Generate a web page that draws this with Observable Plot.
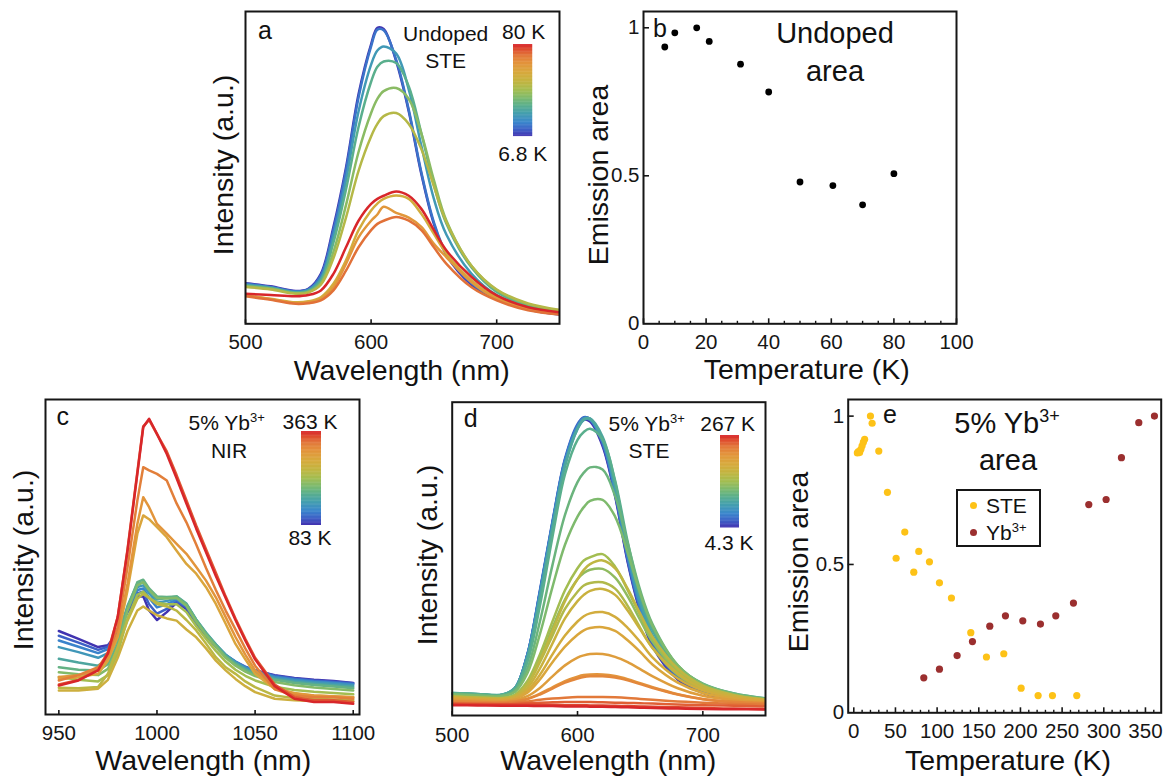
<!DOCTYPE html>
<html><head><meta charset="utf-8">
<script src="https://cdn.jsdelivr.net/npm/d3@7"></script>
<script src="https://cdn.jsdelivr.net/npm/@observablehq/plot@0.6"></script>
<style>
body{margin:0;background:#fff;}
#root{position:relative;width:1170px;height:776px;overflow:hidden;font-family:"Liberation Sans",Arial,sans-serif;color:#111;background:#fff;}
.lbl{position:absolute;white-space:nowrap;line-height:1;transform:translate(-50%,-50%);}
.rot{transform:translate(-50%,-50%) rotate(-90deg);}
sup{font-size:0.62em;vertical-align:0;position:relative;top:-0.62em;}
</style></head><body><div id="root"></div>
<script>
// ---------------- DATA ----------------
// panel a: undoped STE spectra
const wlA = [500,520,540,550,560,570,580,590,600,605,610,620,630,640,650,660,680,700,725,750];
const tempsA = [6.8,10,17,21,31,40,50,60.5,70,80];
const spectraA = [
  [13.0,12.0,10.5,11.2,16,31,50,73.5,89.5,94.8,94.4,84,68,48,32,22,12.5,7.8,4.6,3.0],
  [12.8,11.8,10.4,11.0,15.5,30,49,72.5,88.8,94.2,94.0,84.5,68.5,48.5,32.5,22.5,13,8.1,4.8,3.2],
  [12.5,11.6,10.2,10.8,14.5,28,46,68,83,87.5,88.8,86.5,75,57,40,28.5,16,9.2,5.4,3.7],
  [12.3,11.4,10.0,10.5,13.8,26,43,63,77.5,82.3,84,83.5,76,61,44.5,32,18,10.2,5.9,4.0],
  [12.0,11.2,9.8,10.2,13,23,38,55,67.5,72,74.5,75.5,72,61,46,33,18.5,10.8,6.3,4.3],
  [11.8,11.0,9.6,10.0,12.5,21,34,49,60,64,66.5,67.5,64,56,44,32.5,18.5,11,6.5,4.5],
  [9.1,8.0,6.9,7.2,8.5,12.8,20.3,30,36.3,38.5,40,41.1,40,35.2,28.8,22.4,13.9,8.5,5.1,3.7],
  [9.1,7.9,6.6,6.9,8.0,11.7,19.2,27.7,33,35,37.5,35.5,34,31,25.6,21.3,13.3,8.0,4.8,3.2],
  [8.8,7.7,6.4,6.6,7.5,10.7,17,24.5,30,32,33,34.2,33,30,24.5,19.2,11.7,7.5,4.3,3.0],
  [9.6,9.2,8.8,9.2,10.7,16,24.5,33,38.4,40,41,42.4,41,36.8,30,23.5,15,9.1,5.3,3.7]
];
// panel b: undoped emission area
const tempsB = [6.8,10,17,21,31,40,50,60.5,70,80];
const areaB = [0.935,0.983,1.0,0.954,0.877,0.783,0.479,0.467,0.402,0.507];
// panel c: 5% Yb NIR spectra
const wlC = [950,960,970,975,980,985,990,993,996,1000,1005,1010,1015,1020,1025,1030,1035,1040,1045,1050,1060,1070,1080,1090,1100];
const tempsC = [83,103,123,143,163,183,203,223,243,263,283,303,323,343,363];
const spectraC = [
  [26.5,24.0,21.4,22,26,32.5,37.5,37.5,33,30,32.5,35.5,33.5,29,25,21.5,18.5,16.5,15,14,12.5,11.6,11,10.6,10],
  [25,22.8,20.5,21.5,26,33,38.5,39,35,32,33.5,36,34,29.2,25.2,21.8,18.8,16.8,15.2,14.1,12.3,11.4,10.8,10.4,9.9],
  [23.5,21.5,19.5,20.8,25.5,33.5,39.5,40,37,34,35,36.5,34.5,29.5,25.5,22,19,16.8,15,13.8,12,11.1,10.5,10.1,9.6],
  [21.4,19.8,18,19.5,25,34,40.5,41,38.5,35.5,36,37,35,30,25.8,22.3,19,16.6,14.8,13.5,11.7,10.8,10.2,9.8,9.3],
  [17.7,16.5,15.5,17.5,24,34.5,41.5,42,39.5,36.5,37,37.5,35.2,30.2,26,22.3,18.8,16.3,14.4,13.1,11.3,10.4,9.8,9.3,8.8],
  [15,14.2,14,16,22.4,34,42,42.8,40,37.5,37.3,37.5,35,30,25.7,22,18.5,16,14.1,12.8,11,10,9.4,8.9,8.3],
  [13.4,12.8,12.5,14.5,21,33,41,42,39.5,37,36.8,37,34.5,29.5,25.2,21.5,18,15.5,13.6,12.2,10.3,9.3,8.6,8.1,7.6],
  [11.9,11.0,10.5,12.5,19.5,30.5,38,39,37,35.5,35,35,32.5,28,24,20.2,16.8,14.2,12.3,10.8,8.8,7.8,7.2,6.8,6.4],
  [8.5,8.3,8.7,12.9,21.4,29.8,36.7,38.3,37,35.1,34.3,33,30,26.7,22.5,18.2,15,12.9,10.5,8.7,6,5.2,5,4.8,4.7],
  [7.6,7.6,8.2,11,18,26.5,33,34.3,33,31.5,30.5,29.8,27,24.5,21,17.1,14,11.3,9,7.1,5,4.5,4.3,4.2,4.2],
  [11.3,11.8,12.9,17.1,24.6,39.4,57.4,63.2,62,59.5,56.3,52,47.8,44.7,40.4,35.1,28.8,22.4,17.5,12.9,8.1,6.8,6,5.7,5.5],
  [11.9,12.5,14,18.2,25.6,41.5,60.5,69,65.8,60.5,57.4,54.2,51,46.8,42.5,37.2,30.9,24.6,19,14,8.7,6.6,6,5.8,5.5],
  [10.8,12.5,15,19.3,27.7,46.8,67.9,78.5,77.5,76.4,74.3,67,61,54,46.5,39.5,33,27,21,15.5,8,6,5.5,5.5,5],
  [9.5,11,14.2,19.8,31,52.5,77,91.5,93.5,89,83.5,76,68,60,52.5,45,37.5,30.5,24,18,9.5,5.5,4.5,4.5,4],
  [9.2,10.8,14,19.3,30.9,52,76.4,91.2,93.9,89.1,82.7,75,67,59,51.5,44,37,30,23.5,17.5,9,5,4,4,3.4]
];
// panel d: 5% Yb STE spectra
const wlD = [500,520,540,550,560,570,580,590,600,605,610,620,630,640,650,660,680,700,725,750];
const tempsD = [4.3,6,8,9,10,11.5,12.5,20,22,30,40,50,61,72,78,91,103,117,140,159,180,201,221,238,267];
const spectraD = [
  [6.9,6.6,6.4,8.5,19,39,61,81,92,94.4,93.8,86,70,49,33,22,11.5,7.2,4.8,3.6],
  [6.9,6.6,6.4,8.6,19.5,39.5,61.5,81.5,92.5,95,94.3,86.5,70.5,49.5,33.5,22.5,11.8,7.4,4.9,3.7],
  [6.9,6.6,6.4,8.6,19.5,40,62,82,93,95.2,94.6,87,71,50,34,23,12.2,7.6,5.0,3.8],
  [7.0,6.7,6.5,8.7,19.5,39.5,61.5,81.5,92.5,95,94.6,87.3,71.5,50.5,34.5,23.5,12.6,7.9,5.2,3.9],
  [7.0,6.7,6.5,8.6,19.2,39,61,81,92,94.6,94.4,87.5,72,51,35,24,13,8.2,5.4,4.1],
  [7.1,6.8,6.6,8.7,19,38.5,60.5,80.5,92,94.8,94.7,88,72.5,52,36,25,13.6,8.6,5.7,4.3],
  [7.1,6.8,6.6,8.7,18.8,38,60,80,91.5,94.3,94.5,88,73,52.5,36.5,25.5,14,9,6.0,4.6],
  [7.2,6.9,6.7,8.8,18.5,37.5,59.5,79.5,91.5,94.5,94.8,89,74.5,54,38,27,15,9.8,6.6,5.2],
  [7.2,6.9,6.6,8.4,17,35,57,77,88,90.5,91.5,88,75,55.5,39,28,15.5,10.2,7.0,5.5],
  [6.8,6.5,6.3,7.8,15,30,48,64,74.5,77.5,79.2,78.5,70,55,40,29,16,10,7,5.4],
  [6.7,6.4,6.2,7.5,13.5,26,41,54.5,63.5,66.5,68.5,68.8,63.5,52,39,28.5,16,10,6.8,5.2],
  [6.2,5.9,5.7,6.5,10.5,18,28,37,43.5,45.5,46.5,46.8,44,38,30.5,23.5,14,9,6.3,5],
  [6.1,5.8,5.6,6.6,11,19.5,30,40,47,49.5,50.5,51.5,47.5,40,32,24.5,14.5,9.2,6.4,5.1],
  [6.0,5.7,5.5,6.3,9.8,17,25.5,34,39.5,41.5,42.3,42.5,40.5,35,28,21.5,13,8.5,6,4.9],
  [6.0,5.7,5.5,6.3,10,17.5,27,36.5,43.5,46.5,48.3,49.5,47,40.5,32.5,25,15,9.5,6.5,5.1],
  [5.8,5.5,5.3,6,8.8,15,23,31,36.5,38.5,39.8,40.4,38.5,33.5,27.5,21.5,13.5,8.8,6.2,5.0],
  [5.6,5.3,5.1,5.7,8,13,19.5,25.5,30,31.7,32.6,33,31.5,28,23.5,18.5,11.8,8,5.8,4.8],
  [5.4,5.1,4.9,5.4,7.3,11.5,17,22,25.8,27.2,27.9,28.2,27,24,20.3,16.2,10.5,7.2,5.4,4.6],
  [5.0,4.8,4.6,5,6.2,8.8,12.5,16,18.5,19.2,19.6,19.6,18.7,17,14.8,12.5,8.7,6.3,4.9,4.3],
  [4.6,4.4,4.3,4.6,5.4,7,9,11,12.4,12.9,13.1,13.1,12.6,11.6,10.3,9,6.8,5.3,4.4,4.0],
  [4.5,4.3,4.2,4.5,5.2,6.7,8.6,10.5,11.8,12.3,12.5,12.5,12.1,11.2,10,8.8,6.7,5.2,4.3,3.9],
  [4.0,3.9,3.9,4.1,4.5,5.0,5.4,5.7,5.9,5.9,5.9,5.9,5.8,5.6,5.3,5.0,4.5,4.1,3.7,3.4],
  [3.8,3.7,3.6,3.7,3.9,4.1,4.2,4.3,4.3,4.3,4.3,4.2,4.1,4.0,3.9,3.8,3.5,3.3,3.1,2.9],
  [3.6,3.5,3.4,3.4,3.4,3.4,3.4,3.3,3.3,3.3,3.2,3.2,3.1,3.0,2.9,2.8,2.6,2.4,2.2,2.1],
  [3.3,3.2,3.1,3.1,3.1,3.0,3.0,2.9,2.9,2.9,2.8,2.8,2.7,2.6,2.5,2.4,2.2,2.1,2.0,1.9]
];
// panel e: 5% Yb emission areas
const tempsSTE = [4.3,5.5,7,8.5,10,11.5,13,20,22,30,40.4,50.8,61.2,72,78,90.8,102.8,117.2,140.4,159.2,180,200.8,221.2,238.4,267.6];
const areaSTE = [0.876,0.88,0.877,0.888,0.9,0.912,0.922,1.0,0.976,0.882,0.743,0.521,0.609,0.474,0.544,0.509,0.438,0.387,0.27,0.188,0.199,0.083,0.058,0.058,0.058];
const tempsYb = [84,102.8,124,142.4,163.2,182,202.8,224,242.4,263.6,282,302.8,321.2,342,360.8];
const areaYb = [0.118,0.147,0.193,0.240,0.292,0.327,0.310,0.299,0.327,0.370,0.702,0.719,0.860,0.978,1.0];
// tick labels
const ticksA = [500,600,700];
const ticksB = [0,20,40,60,80,100];
const ticksC = [950,1000,1050,1100];
const ticksE = [0,50,100,150,200,250,300,350];
const ticksArea = [0,0.5,1];

// ---------------- STYLE ----------------
const FONT = '"Liberation Sans", Arial, sans-serif';
const TICKFS = 20.5;
const cmapStops = [0,0.07,0.15,0.25,0.34,0.42,0.5,0.6,0.7,0.8,0.88,0.95,1];
const cmapColors = ["#4133b0","#3d5fc6","#3a86cc","#44a0ad","#5cb08a","#7fba6c","#a3bd51","#c4b43f","#d9a83c","#e3923b","#e2773a","#de4a2e","#d8262a"];
const cmap = d3.scaleLinear().domain(cmapStops).range(cmapColors).interpolate(d3.interpolateRgb);
const INK = "#161616";
const root = document.getElementById("root");

function place(el, left, top) {
  el.style.position = "absolute"; el.style.left = left + "px"; el.style.top = top + "px";
  root.appendChild(el);
}
function label(html, x, y, size, rot) {
  const d = document.createElement("div");
  d.className = "lbl" + (rot ? " rot" : "");
  d.style.left = x + "px"; d.style.top = y + "px"; d.style.fontSize = size + "px";
  d.innerHTML = html; root.appendChild(d);
}
function longSpectra(wl, temps, spectra) {
  const out = [];
  temps.forEach((T, k) => spectra[k].forEach((v, j) => out.push({T, k, wl: wl[j], v})));
  return out;
}
function margins(b) {
  return {marginLeft: b.fl - b.left, marginRight: b.left + b.width - b.fr,
          marginTop: b.ft - b.top, marginBottom: b.top + b.height - b.fb};
}
function spectraPlot(b, xDomain, xTicks, data, n, curve, sw, pad) {
  const fh = b.fb - b.ft;
  const svg = Plot.plot({
    width: b.width, height: b.height, ...margins(b),
    style: {fontFamily: FONT, fontSize: TICKFS + "px", color: INK, background: "transparent", overflow: "visible"},
    x: {domain: xDomain},
    y: {domain: [0, 100], axis: null},
    color: {type: "linear", domain: [0, n - 1], interpolate: cmap},
    marks: [
      Plot.line(data, {x: "wl", y: "v", z: "k", stroke: "k", strokeWidth: sw, curve, clip: true}),
      Plot.frame({stroke: INK, strokeWidth: 2}),
      Plot.tickX(xTicks, {x: d => d, insetTop: fh - 4, stroke: INK, strokeWidth: 1.6}),
      Plot.axisX({ticks: xTicks, tickSize: 0, tickPadding: pad, fontSize: TICKFS, label: null, tickFormat: d => String(d)})
    ]
  });
  place(svg, b.left, b.top);
}
function scatterPlot(b, xDomain, yDomain, xMajor, xMinor, pad, dotMarks) {
  const fh = b.fb - b.ft, fw = b.fr - b.fl;
  const svg = Plot.plot({
    width: b.width, height: b.height, ...margins(b),
    style: {fontFamily: FONT, fontSize: TICKFS + "px", color: INK, background: "transparent", overflow: "visible"},
    x: {domain: xDomain},
    y: {domain: yDomain},
    marks: [
      ...dotMarks,
      Plot.frame({stroke: INK, strokeWidth: 2}),
      Plot.tickX(xMinor, {x: d => d, insetTop: fh - 2.5, stroke: INK, strokeWidth: 1.4}),
      Plot.tickX(xMajor, {x: d => d, insetTop: fh - 5, stroke: INK, strokeWidth: 1.6}),
      Plot.tickY([0.5, 1], {y: d => d, insetRight: fw - 6, stroke: INK, strokeWidth: 1.6}),
      Plot.axisX({ticks: xMajor, tickSize: 0, tickPadding: pad, fontSize: TICKFS, label: null, tickFormat: d => String(d)}),
      Plot.axisY({ticks: ticksArea, tickSize: 0, tickPadding: 4, fontSize: TICKFS, label: null, tickFormat: d => String(d)})
    ]
  });
  place(svg, b.left, b.top);
}
function colorbar(x, y, w, h) {
  const N = 120;
  const svg = Plot.plot({
    width: w, height: h, margin: 0,
    x: {domain: [0, 1], axis: null}, y: {domain: [0, N], axis: null},
    color: {type: "linear", domain: [0, N - 1], interpolate: cmap},
    marks: [Plot.rect(d3.range(N), {x1: () => 0, x2: () => 1, y1: d => d, y2: d => d + 1.6, fill: d => d, clip: true})]
  });
  place(svg, x, y);
}

// ---------------- PANEL a ----------------
spectraPlot({left: 200, top: 0, width: 370, height: 360, fl: 245, fr: 559, ft: 11, fb: 323.3},
  [500, 750], ticksA, longSpectra(wlA, tempsA, spectraA), tempsA.length, "catmull-rom", 2.5, 11);
colorbar(513.3, 44.3, 19.4, 92.4);
label("a", 265, 29.5, 25);
label("Undoped", 445.7, 33.3, 21);
label("STE", 445.7, 60, 21);
label("80 K", 523.7, 30.7, 21);
label("6.8 K", 522.7, 153, 21);
label("Intensity (a.u.)", 223.3, 165, 28.5, true);
label("Wavelength (nm)", 401.7, 370, 28.5);

// ---------------- PANEL b ----------------
scatterPlot({left: 570, top: 0, width: 400, height: 360, fl: 643, fr: 956, ft: 11, fb: 323.3},
  [0, 100], [0, 1.055], ticksB, d3.range(5, 100, 5).filter(v => v % 20 !== 0), 11,
  [Plot.dot(tempsB.map((T, i) => ({T, a: areaB[i]})), {x: "T", y: "a", r: 3.4, fill: "#000"})]);
label("b", 660, 28.3, 25);
label("Undoped", 835, 33.3, 29);
label("area", 835, 71, 29);
label("Emission area", 598, 175, 28.5, true);
label("Temperature (K)", 806.7, 369, 28.5);

// ---------------- PANEL c ----------------
spectraPlot({left: 0, top: 390, width: 390, height: 386, fl: 45, fr: 359, ft: 399, fb: 714},
  [943.2, 1103.2], ticksC, longSpectra(wlC, tempsC, spectraC), tempsC.length, "linear", 2.5, 11);
colorbar(301, 431, 20, 94);
label("c", 62.7, 415.5, 25);
label("5% Yb<sup>3+</sup>", 226.7, 421.7, 21);
label("NIR", 229, 450, 21);
label("363 K", 310, 420.7, 21);
label("83 K", 310, 536.7, 21);
label("Intensity (a.u.)", 23.3, 560, 28.5, true);
label("Wavelength (nm)", 203.3, 760, 28.5);

// ---------------- PANEL d ----------------
spectraPlot({left: 390, top: 390, width: 390, height: 386, fl: 451.7, fr: 765, ft: 401.7, fb: 715},
  [500, 750], ticksA, longSpectra(wlD, tempsD, spectraD), tempsD.length, "catmull-rom", 2.5, 12);
colorbar(720, 435, 19.4, 92.7);
label("d", 470.7, 418, 25);
label("5% Yb<sup>3+</sup>", 646.7, 422.7, 21);
label("STE", 649, 450, 21);
label("267 K", 727.7, 422.7, 21);
label("4.3 K", 729, 541.7, 21);
label("Intensity (a.u.)", 427.3, 555, 28.5, true);
label("Wavelength (nm)", 608.3, 760, 28.5);

// ---------------- PANEL e ----------------
const steColor = "#fdc217", ybColor = "#9b2f2f";
scatterPlot({left: 770, top: 390, width: 400, height: 386, fl: 847.7, fr: 1160.7, ft: 399, fb: 712.3},
  [-6.7, 368.9], [0, 1.056], ticksE, d3.range(10, 370, 10).filter(v => v % 50 !== 0), 11,
  [Plot.dot(tempsSTE.map((T, i) => ({T, a: areaSTE[i]})), {x: "T", y: "a", r: 3.6, fill: steColor}),
   Plot.dot(tempsYb.map((T, i) => ({T, a: areaYb[i]})), {x: "T", y: "a", r: 3.6, fill: ybColor})]);
label("e", 890, 414, 25);
label("5% Yb<sup>3+</sup>", 1007, 423, 29);
label("area", 1008, 460, 29);
label("Emission area", 798.3, 561.7, 28.5, true);
label("Temperature (K)", 1008, 760, 28.5);
// legend
const box = document.createElement("div");
box.style.cssText = "position:absolute;left:955.7px;top:488.7px;width:81.5px;height:54px;border:2px solid " + INK + ";box-sizing:content-box;";
root.appendChild(box);
[["STE", steColor, 505.3], ["Yb<sup>3+</sup>", ybColor, 532.3]].forEach(([t, c, y]) => {
  const dot = document.createElement("div");
  dot.style.cssText = `position:absolute;left:${973.7 - 3.6}px;top:${y - 3.6}px;width:7.2px;height:7.2px;border-radius:50%;background:${c};`;
  root.appendChild(dot);
  const d = document.createElement("div");
  d.style.cssText = `position:absolute;left:986px;top:${y}px;transform:translateY(-50%);font-size:21px;line-height:1;white-space:nowrap;`;
  d.innerHTML = t; root.appendChild(d);
});
</script></body></html>
